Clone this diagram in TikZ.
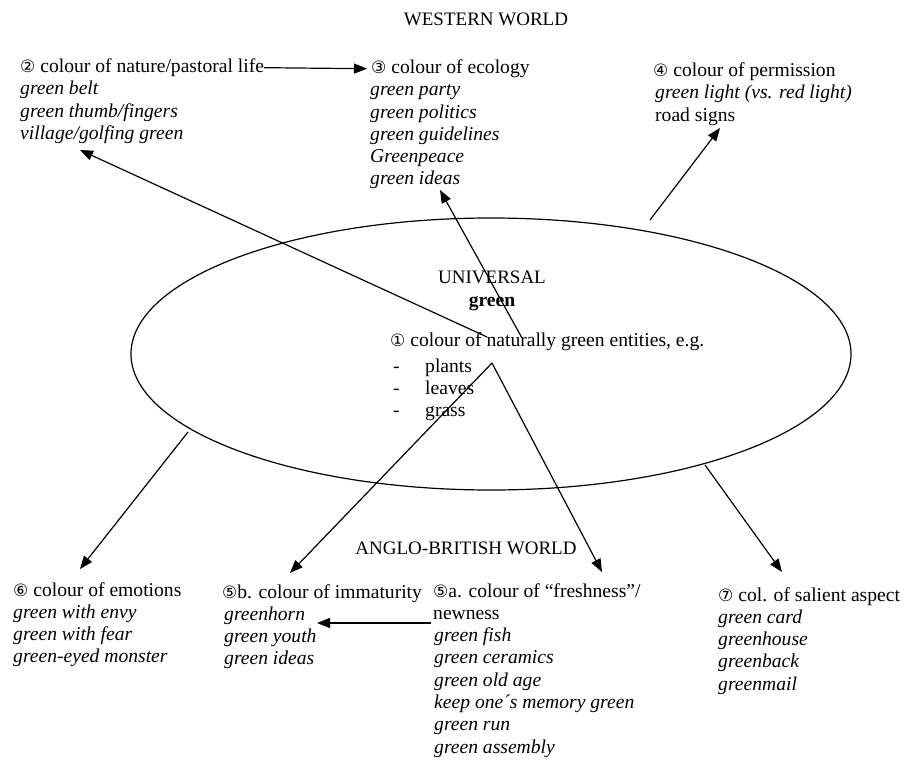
\documentclass[tikz,border=0pt]{standalone}
\usepackage{fontspec}
\usepackage{array}
\setmainfont{Liberation Serif}
\newfontfamily\cfont{DejaVu Sans}
\usetikzlibrary{arrows.meta,shapes.geometric}
\newcommand\cn[1]{{\cfont\fontsize{17}{17}\selectfont #1}}
\newcommand\blk[1]{\begin{tabular}[t]{@{}l@{}}#1\end{tabular}}
\newcommand\iblk[1]{\begin{tabular}[t]{@{}>{\itshape}l@{}}#1\end{tabular}}
\begin{document}
\begin{tikzpicture}[x=1pt,y=-1pt,
  font=\fontsize{19.6}{22.3}\selectfont,
  txt/.style={anchor=base west, inner sep=0pt},
  ctr/.style={anchor=base, inner sep=0pt},
  arr/.style={-{Triangle[length=13pt,width=10pt]}, line width=1.2pt}]
\useasboundingbox (0,0) rectangle (907,765);

% titles
\node[ctr, font=\fontsize{19}{22.3}\selectfont] (west) at (486,26) {WESTERN WORLD};
\node[ctr, font=\fontsize{19}{22.3}\selectfont] (anglo) at (466,554) {ANGLO-BRITISH WORLD};

% ellipse
\node[draw, ellipse, line width=1.2pt, minimum width=720pt, minimum height=272pt, inner sep=0pt] (univ) at (491,354) {};
\node[ctr, font=\fontsize{19}{22.3}\selectfont] (univt) at (492,283) {UNIVERSAL};
\node[ctr] (greent) at (492,306) {\textbf{green}};
\node[txt] (n1h) at (390,346.5) {\cn{①} colour of naturally green entities, e.g.};
\node[txt] (n1d) at (393,372) {\blk{-\\-\\-}};
\node[txt] (n1l) at (425,372) {\blk{plants\\leaves\\grass}};

% western world boxes
\node[txt] (n2h) at (20,72.5) {\cn{②} colour of nature/pastoral life};
\node[txt] (n2l) at (20,94.8) {\iblk{green belt\\green thumb/fingers\\village/golfing green}};

\node[txt] (n3h) at (371,73.5) {\cn{③} colour of ecology};
\node[txt] (n3l) at (370,95.8) {\iblk{green party\\green politics\\green guidelines\\Greenpeace\\green ideas}};

\node[txt] (n4h) at (653,76.5) {\cn{④} colour of permission};
\node[txt] (n4l) at (655,98.8) {\blk{\textit{green light (vs. red light)}\\road signs}};

% anglo-british boxes
\node[txt] (n6h) at (13,596) {\cn{⑥} colour of emotions};
\node[txt] (n6l) at (13,618.3) {\iblk{green with envy\\green with fear\\green-eyed monster}};

\node[txt] (n5bh) at (222,598) {\cn{⑤}b. colour of immaturity};
\node[txt] (n5bl) at (224,620.3) {\iblk{greenhorn\\green youth\\green ideas}};

\node[txt] (n5ah) at (433,597) {\blk{\cn{⑤}a. colour of “freshness”/\\newness}};
\node[txt] (n5al) at (434,641.6) {\iblk{green fish\\green ceramics\\green old age\\keep one´s memory green\\green run\\green assembly}};

\node[txt] (n7h) at (718,601) {\cn{⑦} col. of salient aspect};
\node[txt] (n7l) at (718,623.3) {\iblk{green card\\greenhouse\\greenback\\greenmail}};

% connector end points
\coordinate (s2) at (487,337);
\coordinate (t2) at (80,150);
\coordinate (s3) at (522,338);
\coordinate (t3) at (440,190);
\coordinate (s4) at (650,220);
\coordinate (t4) at (720,128);
\coordinate (apex) at (492,363);
\coordinate (t5b) at (290,573);
\coordinate (t5a) at (602,572);
\coordinate (s6) at (188,432);
\coordinate (t6) at (80,569);
\coordinate (s7) at (705,465);
\coordinate (t7) at (782,572);
\coordinate (s5) at (431,623);
\coordinate (t5) at (317,623);

% connectors
\draw[arr] (n2h.east) -- ([xshift=-4pt]n3h.west);
\draw[arr] (s2) -- (t2);
\draw[arr] (s3) -- (t3);
\draw[arr] (s4) -- (t4);
\draw[arr] (apex) -- (t5b);
\draw[arr] (apex) -- (t5a);
\draw[arr] (s6) -- (t6);
\draw[arr] (s7) -- (t7);
\draw[arr] (s5) -- (t5);
\end{tikzpicture}
\end{document}
